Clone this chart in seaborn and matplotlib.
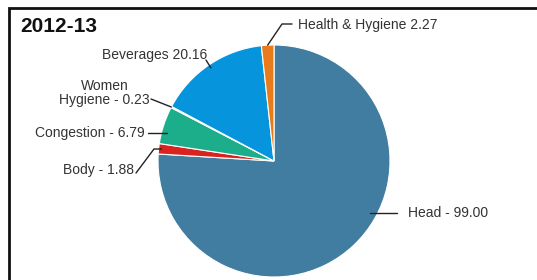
import matplotlib
matplotlib.use("Agg")
import matplotlib.pyplot as plt
import numpy as np
import seaborn as sns

# Daten
categories = ["Head", "Body", "Congestion", "Women\nHygiene", "Beverages", "Health & Hygiene"]
values = [99.00, 1.88, 6.79, 0.23, 20.16, 2.27]
label_texts = ["Head - 99.00", "Body - 1.88", "Congestion - 6.79",
               "Women\nHygiene - 0.23", "Beverages 20.16", "Health & Hygiene 2.27"]
colors = ["#417DA0", "#D8231F", "#1CAE8A", "#F8F3C4", "#0695DD", "#E87B1C"]
title = "2012-13"

sns.set_theme(style="white")
plt.rcParams['font.family'] = ['Liberation Sans Narrow', 'Liberation Sans', 'DejaVu Sans']

W, H = 537, 280
fig = plt.figure(figsize=(W / 100, H / 100), dpi=100)
ax = fig.add_axes([0, 0, 1, 1])

cx, cy, r = 274, H - 161, 116
wedges, _ = ax.pie(values, colors=colors, startangle=90, counterclock=False,
                   center=(cx, cy), radius=r, frame=True,
                   wedgeprops=dict(edgecolor="white", linewidth=0.8))
ax.set_xlim(0, W)
ax.set_ylim(0, H)
ax.axis("off")


def py(y):
    return H - y


line_kw = dict(color="#222222", lw=1)

for w, cat, txt in zip(wedges, categories, label_texts):
    ang = np.deg2rad((w.theta1 + w.theta2) / 2)

    def edge(rf=1.0):
        return cx + r * rf * np.cos(ang), cy + r * rf * np.sin(ang)

    if cat == "Head":
        ax.plot([370, 397], [py(213), py(213)], **line_kw)
        ax.text(408, py(213), txt, ha="left", va="center", fontsize=10, color="#333333")
    elif cat == "Body":
        ex, ey = edge(1.0)
        ax.plot([ex + 3, 154, 136], [py(149), py(149), py(173)], **line_kw)
        ax.text(134, py(170), txt, ha="right", va="center", fontsize=10, color="#333333")
    elif cat == "Congestion":
        ex, ey = edge(0.97)
        ax.plot([ex, 148], [py(133), py(133)], **line_kw)
        ax.text(145, py(133), txt, ha="right", va="center", fontsize=10, color="#333333")
    elif cat == "Women\nHygiene":
        ex, ey = edge(1.0)
        ax.plot([ex, 151], [ey, py(99)], **line_kw)
        ax.text(150, py(93), txt, ha="right", va="center", fontsize=10, color="#333333",
                multialignment="center", linespacing=1.05)
    elif cat == "Beverages":
        ex, ey = edge(0.97)
        ax.plot([206, ex], [py(60), ey], **line_kw)
        ax.text(207, py(55), txt, ha="right", va="center", fontsize=10, color="#333333")
    else:
        ex, ey = edge(1.0)
        ax.plot([ex, 282, 292], [ey, py(24), py(24)], **line_kw)
        ax.text(298, py(25), txt, ha="left", va="center", fontsize=10, color="#333333")

ax.text(20, py(26), title, ha="left", va="center", fontsize=15, fontweight="bold",
        family=["Liberation Sans", "DejaVu Sans"], color="#111111")

# Rahmen (unten und rechts abgeschnitten)
ax.plot([9, 9, W + 5], [-5, py(7.5), py(7.5)], color="#111111", lw=2,
        solid_joinstyle="miter", clip_on=False)

fig.savefig("out.png", dpi=100)
